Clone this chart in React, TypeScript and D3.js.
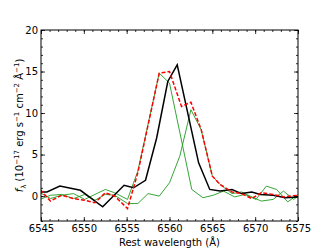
import React, { useRef, useEffect } from 'react';
import { select, scaleLinear, line, range, axisBottom, axisTop, axisLeft, axisRight } from 'd3';

// observed spectrum (black)
const obsWave = [6544.9, 6545.7, 6547.2, 6549.6, 6552.2, 6554.7, 6555.8, 6557.2, 6558.5, 6559.8, 6560.9, 6563.4, 6564.7, 6565.9, 6567.3, 6568.4, 6569.6, 6570.6, 6572.1, 6573.5, 6575.0];
const obsFlux = [0.5, 0.5, 1.2, 0.7, -1.3, 1.3, 1.0, 1.9, 7.0, 13.8, 15.8, 4.0, 0.8, 0.6, 0.8, 0.3, 0.5, 0.2, 0.1, -0.2, -0.1];

// total fit (red dashed)
const fitWave = [6544.9, 6546.1, 6547.4, 6548.8, 6550.1, 6551.3, 6552.5, 6553.6, 6555.1, 6556.3, 6558.8, 6560.0, 6561.4, 6562.5, 6563.7, 6565.0, 6565.9, 6567.3, 6568.4, 6569.6, 6570.7, 6572.1, 6573.3, 6575.0];
const fitFlux = [0.8, -0.6, 0.1, -0.3, -0.5, -0.8, 0.4, 0.0, -1.5, 2.8, 14.8, 15.0, 10.8, 11.3, 8.0, 2.4, 1.4, 0.5, 0.3, -0.3, 0.4, 0.2, -0.1, 0.1];

// blue component (green)
const comp1Wave = [6544.9, 6546.1, 6547.4, 6548.8, 6550.1, 6551.3, 6552.5, 6553.6, 6555.1, 6556.3, 6558.8, 6560.0, 6562.6, 6563.9, 6565.1, 6566.3, 6567.6, 6568.8, 6570.1, 6571.3, 6572.5, 6573.8, 6575.0];
const comp1Flux = [0.4, -0.3, 0.1, 0.3, -0.4, 0.2, 0.8, 0.4, -0.4, 3.0, 14.8, 13.6, 0.8, -0.2, 0.1, 0.6, -0.1, 0.2, -0.4, 1.2, 0.8, -0.7, 0.2];

// red component (green)
const comp2Wave = [6544.9, 6546.1, 6547.4, 6548.8, 6550.1, 6551.3, 6552.5, 6553.6, 6555.1, 6556.3, 6557.5, 6558.8, 6560.0, 6561.2, 6562.5, 6563.7, 6565.0, 6565.9, 6567.3, 6568.4, 6569.6, 6570.7, 6572.1, 6573.3, 6574.5, 6575.0];
const comp2Flux = [-0.4, 0.1, 0.2, -0.3, 0.2, -0.5, 0.2, 0.1, -0.9, -0.9, 0.3, 0.0, 1.6, 4.8, 10.4, 8.0, 2.4, 1.4, 0.3, 0.5, -0.1, -0.6, -0.4, 0.6, -0.4, 0.0];

const xTicks = [6545, 6550, 6555, 6560, 6565, 6570, 6575];
const yTicks = [0, 5, 10, 15, 20];

const W = 332, H = 249;
const M = { top: 30, right: 34, bottom: 28, left: 41 };
const FONT = 'DejaVu Sans, sans-serif';

const App = () => {
    const svgRef = useRef<SVGSVGElement>(null);

    useEffect(() => {
        const svg = select(svgRef.current);
        svg.selectAll('*').remove();

        const x = scaleLinear().domain([6545, 6575]).range([M.left, W - M.right]);
        const y = scaleLinear().domain([-3, 20]).range([H - M.bottom, M.top]);

        svg.append('clipPath').attr('id', 'plot-clip')
            .append('rect')
            .attr('x', M.left).attr('y', M.top)
            .attr('width', W - M.left - M.right).attr('height', H - M.top - M.bottom);

        const path = line<number>().x((d, i) => 0).y(() => 0);
        const draw = (wave: number[], flux: number[], color: string, width: number, dash?: string) => {
            const pts = wave.map((w, i) => [x(w), y(flux[i])] as [number, number]);
            const p = svg.append('path')
                .attr('clip-path', 'url(#plot-clip)')
                .attr('d', line()(pts))
                .attr('fill', 'none')
                .attr('stroke', color)
                .attr('stroke-width', width)
                .attr('stroke-linejoin', 'miter');
            if (dash) p.attr('stroke-dasharray', dash);
        };
        void path;

        draw(comp1Wave, comp1Flux, '#1f9a1f', 0.9);
        draw(comp2Wave, comp2Flux, '#1f9a1f', 0.9);
        draw(obsWave, obsFlux, '#000', 1.5);
        draw(fitWave, fitFlux, '#ff0000', 1.5, '4,2');

        // ticks, all pointing inward
        const addAxis = (ax: any, tx: number, ty: number, labels: boolean) => {
            const g = svg.append('g').attr('transform', `translate(${tx},${ty})`).call(ax);
            g.select('.domain').remove();
            g.selectAll('line').attr('stroke', '#000').attr('stroke-width', 0.8);
            g.selectAll('text').attr('fill', '#000').style('font-family', FONT).style('font-size', '10px');
            if (!labels) g.selectAll('text').remove();
        };
        const xMinor = range(6545, 6576, 1);
        const yMinor = range(-3, 21, 1);
        const bottom = H - M.bottom, right = W - M.right;

        addAxis(axisBottom(x).tickValues(xMinor).tickSize(-2), 0, bottom, false);
        addAxis(axisTop(x).tickValues(xMinor).tickSize(-2), 0, M.top, false);
        addAxis(axisLeft(y).tickValues(yMinor).tickSize(-2), M.left, 0, false);
        addAxis(axisRight(y).tickValues(yMinor).tickSize(-2), right, 0, false);

        addAxis(axisBottom(x).tickValues(xTicks).tickSize(-4).tickPadding(3.5).tickFormat(d => String(d)), 0, bottom, true);
        addAxis(axisTop(x).tickValues(xTicks).tickSize(-4), 0, M.top, false);
        addAxis(axisLeft(y).tickValues(yTicks).tickSize(-4).tickPadding(3), M.left, 0, true);
        addAxis(axisRight(y).tickValues(yTicks).tickSize(-4), right, 0, false);

        svg.append('rect')
            .attr('x', M.left).attr('y', M.top)
            .attr('width', right - M.left).attr('height', bottom - M.top)
            .attr('fill', 'none').attr('stroke', '#000').attr('stroke-width', 1);

        // axis titles
        svg.append('text')
            .attr('x', (M.left + right) / 2).attr('y', 246)
            .attr('text-anchor', 'middle')
            .style('font-family', FONT).style('font-size', '10px')
            .text('Rest wavelength (Å)');

        const yl = svg.append('text')
            .attr('transform', `translate(23,${(M.top + bottom) / 2}) rotate(-90)`)
            .attr('text-anchor', 'middle')
            .style('font-family', FONT).style('font-size', '10px');
        yl.append('tspan').style('font-style', 'italic').text('f');
        yl.append('tspan').attr('dy', 2.5).style('font-size', '7px').text('λ');
        yl.append('tspan').attr('dy', -2.5).text(' (10');
        yl.append('tspan').attr('dy', -4).style('font-size', '7px').text('−17');
        yl.append('tspan').attr('dy', 4).text(' erg s');
        yl.append('tspan').attr('dy', -4).style('font-size', '7px').text('−1');
        yl.append('tspan').attr('dy', 4).text(' cm');
        yl.append('tspan').attr('dy', -4).style('font-size', '7px').text('−2');
        yl.append('tspan').attr('dy', 4).text(' Å');
        yl.append('tspan').attr('dy', -4).style('font-size', '7px').text('−1');
        yl.append('tspan').attr('dy', 4).text(')');
    }, []);

    return (
        <svg ref={svgRef} width={W} height={H} style={{ position: 'absolute', left: 0, top: 0, background: '#fff' }} />
    );
};

export default App;
